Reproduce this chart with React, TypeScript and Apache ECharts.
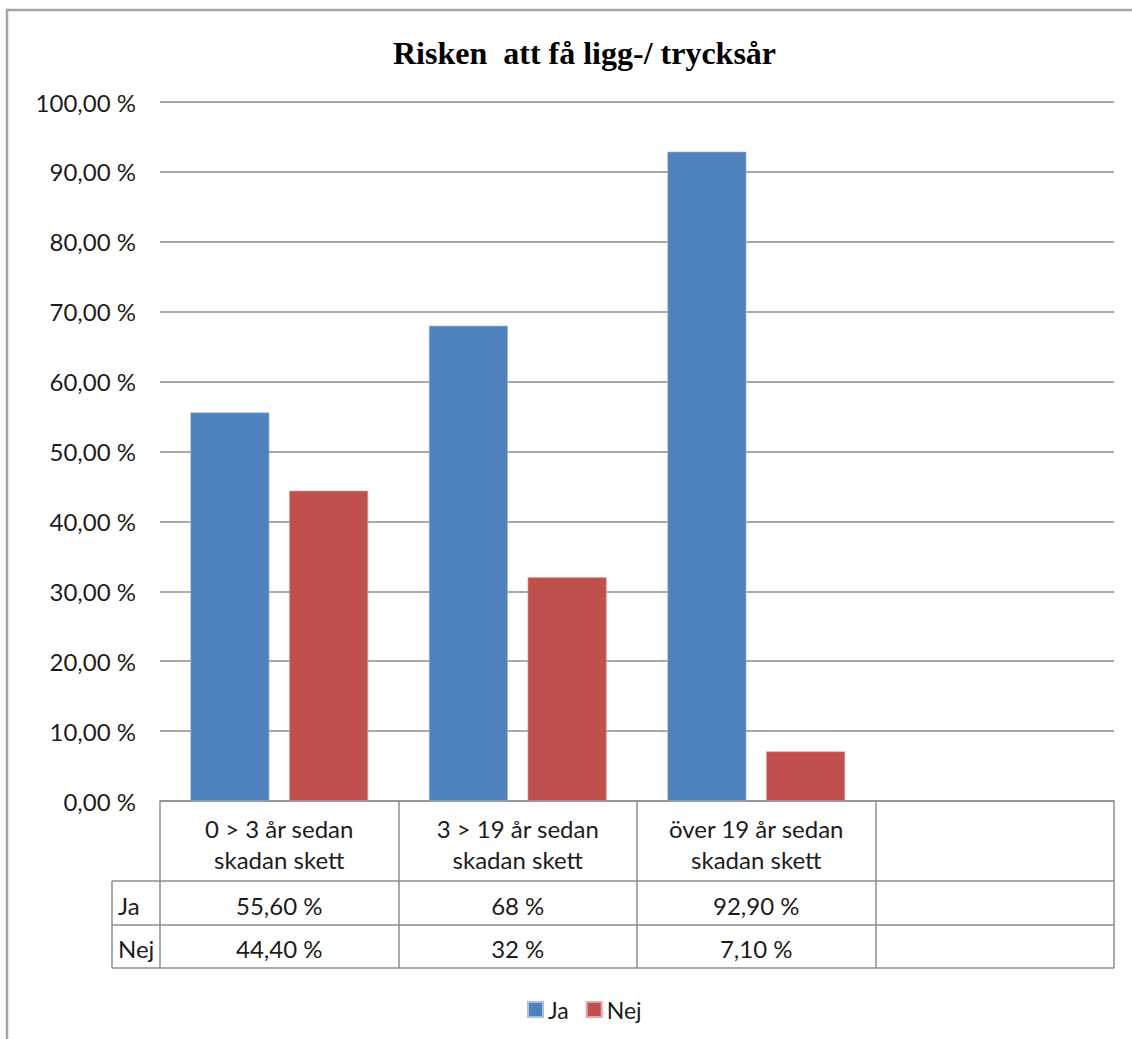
import React, { useEffect, useRef } from "react";
import * as echarts from "echarts";

const titleText = "Risken  att få ligg-/ trycksår";
const categories = [
  "0 > 3 år sedan\nskadan skett",
  "3 > 19 år sedan\nskadan skett",
  "över 19 år sedan\nskadan skett",
  "",
];
const seriesNames = ["Ja", "Nej"];
const jaValues = [55.6, 68, 92.9, null];
const nejValues = [44.4, 32, 7.1, null];
const jaLabels = ["55,60 %", "68 %", "92,90 %", ""];
const nejLabels = ["44,40 %", "32 %", "7,10 %", ""];
const yMin = 0;
const yMax = 100;
const yStep = 10;

const FONT = "Lato";
const FS = 24;
const TEXT = "#1c1c1c";
const LINE = "#8e8e8e";

export default function App() {
  const ref = useRef<HTMLDivElement>(null);
  useEffect(() => {
    const chart = echarts.init(ref.current!, undefined, { renderer: "svg" });
    const tableLeft = 112;
    const tableRight = 1114;
    const rows = [881, 925, 968];
    chart.setOption({
      animation: false,
      backgroundColor: "#ffffff",
      title: {
        text: titleText,
        left: 388,
        top: 32,
        textStyle: {
          fontFamily: "Liberation Serif",
          fontWeight: "bold",
          fontSize: 32,
          color: "#000",
        },
      },
      legend: {
        data: seriesNames,
        left: 522,
        top: 993,
        icon: "rect",
        itemWidth: 15,
        itemHeight: 15,
        itemGap: 17,
        textStyle: { fontFamily: FONT, fontSize: 23, color: TEXT },
      },
      grid: { left: 160, right: 18, top: 102, bottom: 238, containLabel: false },
      xAxis: {
        type: "category",
        data: categories,
        boundaryGap: true,
        axisLine: { show: true, lineStyle: { color: LINE, width: 1.5 } },
        axisTick: {
          show: true,
          interval: 0,
          alignWithLabel: false,
          length: 167,
          lineStyle: { color: LINE, width: 1.5 },
        },
        axisLabel: {
          interval: 0,
          margin: 12,
          color: TEXT,
          fontFamily: FONT,
          formatter: (value: string, index: number) => {
            if (!value) return "";
            const [l1, l2] = value.split("\n");
            return `{c|${l1}}\n{c|${l2}}\n{s| }\n{v|${jaLabels[index]}}\n{v|${nejLabels[index]}}`;
          },
          rich: {
            c: { fontFamily: FONT, fontSize: FS, lineHeight: 31, color: TEXT },
            s: { fontSize: 1, lineHeight: 9 },
            v: { fontFamily: FONT, fontSize: FS, lineHeight: 43, color: TEXT },
          },
        },
      },
      yAxis: {
        type: "value",
        min: yMin,
        max: yMax,
        interval: yStep,
        axisLine: { show: false },
        axisTick: { show: false },
        splitLine: { show: true, lineStyle: { color: LINE, width: 1.5 } },
        axisLabel: {
          margin: 24,
          color: TEXT,
          fontFamily: FONT,
          fontSize: FS,
          padding: [6, 0, 0, 0],
          formatter: (v: number) => v.toFixed(2).replace(".", ",") + " %",
        },
      },
      series: [
        {
          name: seriesNames[0],
          type: "bar",
          data: jaValues,
          barWidth: 79,
          barGap: "25%",
          itemStyle: { color: "#4F81BD", borderColor: "#a9c1e0", borderWidth: 0.6 },
        },
        {
          name: seriesNames[1],
          type: "bar",
          data: nejValues,
          barWidth: 79,
          barGap: "25%",
          itemStyle: { color: "#C0504D", borderColor: "#e0a9a7", borderWidth: 0.6 },
        },
      ],
      graphic: [
        {
          type: "polyline",
          silent: true,
          shape: { points: [[7, 1039], [7, 10], [1132, 10]] },
          style: { stroke: "#a6a6a6", lineWidth: 2.5, fill: null },
        },
        ...rows.map((y) => ({
          type: "line",
          silent: true,
          shape: { x1: tableLeft, y1: y, x2: tableRight, y2: y },
          style: { stroke: LINE, lineWidth: 1.5 },
        })),
        {
          type: "line",
          silent: true,
          shape: { x1: tableLeft, y1: rows[0], x2: tableLeft, y2: rows[2] },
          style: { stroke: LINE, lineWidth: 1.5 },
        },
        ...seriesNames.map((name, i) => ({
          type: "text",
          silent: true,
          x: 118,
          y: (rows[i] + rows[i + 1]) / 2 + 2,
          style: {
            text: name,
            fontFamily: FONT,
            fontSize: FS,
            fill: TEXT,
            verticalAlign: "middle",
            align: "left",
          },
        })),
      ],
    });
    return () => chart.dispose();
  }, []);
  return (
    <div
      ref={ref}
      style={{ position: "fixed", left: 0, top: 0, width: 1132, height: 1039 }}
    />
  );
}
